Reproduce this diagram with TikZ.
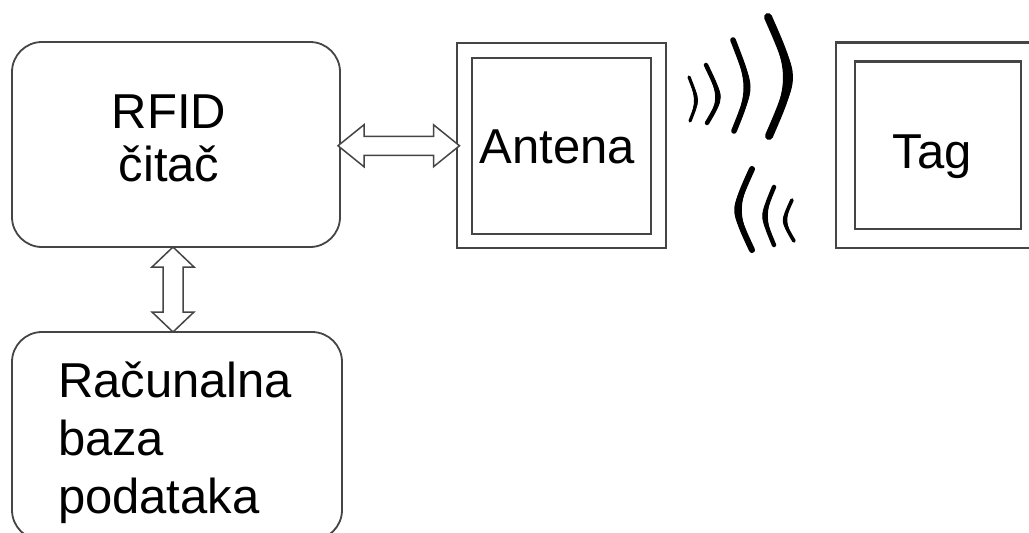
\documentclass[tikz,border=0pt]{standalone}
\usepackage{fontspec}
\setmainfont{Liberation Sans}
\usetikzlibrary{calc}
\definecolor{linegray}{HTML}{454545}
\newcommand\wavearc[7]{%
\fill[wavefill] (#1,#2) .. controls ({(8*(#3+(#7)/2)-#1-#5)/6},{(8*#4-#2-#6)/6}) .. (#5,#6)
  .. controls ({(8*(#3-(#7)/2)-#1-#5)/6},{(8*#4-#2-#6)/6}) .. (#1,#2) -- cycle;
\draw[black, line cap=round, line width={0.8*abs(#7)*1pt}] (#1,#2) .. controls ({(8*#3-#1-#5)/6},{(8*#4-#2-#6)/6}) .. (#5,#6);}
\begin{document}
\begin{tikzpicture}[x=1pt,y=-1pt,
  rbox/.style={draw=linegray, line width=1.8pt, rounded corners=30pt, rectangle, inner sep=0pt, outer sep=0pt},
  dbox/.style={draw=linegray, line width=2.2pt, double=white, rectangle, inner sep=0pt, outer sep=0pt},
  lbl/.style={inner sep=0pt, outer sep=0pt, text=black},
  dblarrow/.style={draw=linegray, line width=1.5pt, fill=white, line join=miter},
  wavefill/.style={fill=black}]
\useasboundingbox (0,0) rectangle (1029,533);
\clip (0,0) rectangle (1029,533);
\fill[white] (0,0) rectangle (1029,533);

% boxes
\node[rbox, minimum width=328pt, minimum height=205pt] (rfid) at (176,144.5) {};
\node[rbox, minimum width=330pt, minimum height=208pt] (db) at (177,436) {};
\node[dbox, double distance=12.5pt, minimum width=194pt, minimum height=190.5pt] (ant) at (561.5,145.75) {};
\node[dbox, double distance=16.8pt, minimum width=185pt, minimum height=186.5pt] (tag) at (938,145.25) {};

% texts
\node[lbl, align=center, anchor=north, font={\fontsize{49pt}{53pt}\selectfont}] (rfidtxt) at (169,95) {RFID\\čitač};
\node[lbl, align=left, anchor=north west, font={\fontsize{49pt}{58pt}\selectfont}] (dbtxt) at (58,362) {Računalna\\baza\\podataka};
\node[lbl, anchor=base, font={\fontsize{49pt}{53pt}\selectfont}] (anttxt) at (557.5,163) {Antena};
\node[lbl, anchor=base, font={\fontsize{49pt}{53pt}\selectfont}] (tagtxt) at (932,168) {Tag};

% horizontal double arrow
\draw[dblarrow] let \p1=(rfid.east), \p2=(ant.west) in
  ({\x1-2pt},\y2) -- ({\x1+24pt},{\y2+21pt}) -- ({\x1+24pt},{\y2+9.5pt})
  -- ({\x2-31pt},{\y2+9.5pt}) -- ({\x2-31pt},{\y2+21pt}) -- ({\x2-5pt},\y2)
  -- ({\x2-31pt},{\y2-21pt}) -- ({\x2-31pt},{\y2-9.5pt}) -- ({\x1+24pt},{\y2-9.5pt})
  -- ({\x1+24pt},{\y2-21pt}) -- cycle;

% vertical double arrow
\draw[dblarrow] let \p1=(rfid.south), \p2=(db.north) in
  ({\x1-3pt},\y1) -- ({\x1+18pt},{\y1-20pt}) -- ({\x1+7pt},{\y1-20pt})
  -- ({\x1+7pt},{\y2+20pt}) -- ({\x1+18pt},{\y2+20pt}) -- ({\x1-3pt},\y2)
  -- ({\x1-24pt},{\y2+20pt}) -- ({\x1-13pt},{\y2+20pt}) -- ({\x1-13pt},{\y1-20pt})
  -- ({\x1-24pt},{\y1-20pt}) -- cycle;

% radio waves (outgoing)
\wavearc{689}{77}{696}{100}{690}{121}{4}
\wavearc{706}{65}{718}{97}{707}{123}{5.5}
\wavearc{733}{40}{747}{87}{734}{131}{7}
\wavearc{768}{17}{788}{77}{769}{136}{10}
% radio waves (incoming)
\wavearc{752}{169}{738}{210}{752}{250}{-7.5}
\wavearc{774}{187}{765}{216}{774}{245}{-5.5}
\wavearc{792}{200}{785}{221}{794}{241}{-4.5}
\end{tikzpicture}
\end{document}
